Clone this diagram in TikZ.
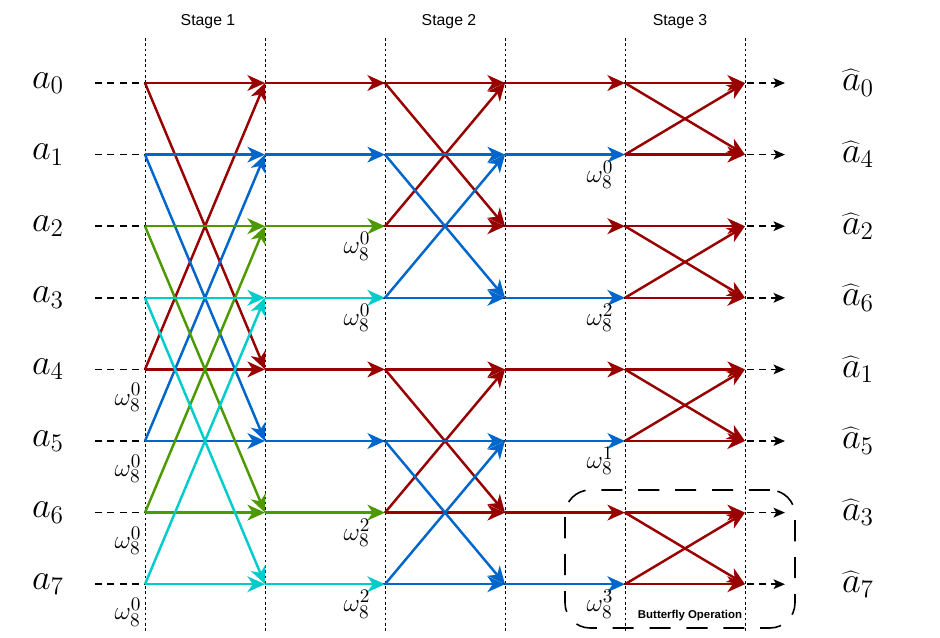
\documentclass[tikz,border=0pt]{standalone}
\usepackage{fontspec}
\setsansfont{Liberation Sans}
\usetikzlibrary{arrows.meta,calc,positioning}
\definecolor{bfred}{HTML}{990000}
\definecolor{bfblue}{HTML}{0066CC}
\definecolor{bfgreen}{HTML}{4D9900}
\definecolor{bfcyan}{HTML}{00CCCC}
\tikzset{
  wire/.style={line width=1.4pt, -{Stealth[length=10pt,width=9pt,inset=3pt]}},
  guide/.style={line width=0.5pt, dash pattern=on 1.5pt off 1.5pt},
  feed/.style={line width=0.9pt, dash pattern=on 4pt off 3pt, -{Stealth[length=6.5pt,width=5.5pt,inset=1.5pt]}},
  sig/.style={font=\fontsize{20}{20}\selectfont},
  twid/.style={font=\fontsize{15}{15}\selectfont},
  stagelbl/.style={font=\sffamily\fontsize{9}{9}\selectfont},
}
\begin{document}
\begin{tikzpicture}[x=0.02cm,y=-0.02cm,line join=round]
			\useasboundingbox (0,0) rectangle (940,637);
			\def \colx{120};
			\def \rowy{71.6};
			% grid points of the flow graph
			\foreach \c in {0,...,5}
			{
				\foreach \r in {0,...,7}
				{
					\coordinate (p\c-\r) at ({145+\colx*\c},{83+\rowy*\r});
				}
			}
			\foreach \c in {0,...,5}
			{
				\draw[guide] ($(p\c-0)+(0,-45)$) -- ($(p\c-7)+(0,48)$);
			}
			\node[stagelbl] (st1) at (208,22) {Stage 1};
			\node[stagelbl] (st2) at (449,22) {Stage 2};
			\node[stagelbl] (st3) at (680,22) {Stage 3};
			% inputs, outputs and dashed wires
			\foreach \r/\o in {0/0,1/4,2/2,3/6,4/1,5/5,6/3,7/7}
			{
				\node[sig] (in\r) at (48,{83+\rowy*\r}) {$a_{\r}$};
				\node[sig] (out\r) at (858,{83+\rowy*\r}) {$\widehat{a}_{\o}$};
				\coordinate (s\r) at (95,{83+\rowy*\r});
				\coordinate (e\r) at (785,{83+\rowy*\r});
				\draw[feed] (s\r) -- (e\r);
			}
			% stage 1
			\foreach \t/\b/\col in {0/4/bfred,1/5/bfblue,2/6/bfgreen,3/7/bfcyan}
			{
				\draw[wire,\col] (p0-\t) -- (p1-\t);
				\draw[wire,\col] (p0-\t) -- (p1-\b);
				\draw[wire,\col] (p0-\b) -- (p1-\b);
				\draw[wire,\col] (p0-\b) -- (p1-\t);
			}
			\foreach \r/\col in {0/bfred,1/bfblue,2/bfgreen,3/bfcyan,4/bfred,5/bfblue,6/bfgreen,7/bfcyan}
			{
				\draw[wire,\col] (p1-\r) -- (p2-\r);
			}
			% stage 2
			\foreach \t/\b/\col in {0/2/bfred,1/3/bfblue,4/6/bfred,5/7/bfblue}
			{
				\draw[wire,\col] (p2-\t) -- (p3-\t);
				\draw[wire,\col] (p2-\t) -- (p3-\b);
				\draw[wire,\col] (p2-\b) -- (p3-\b);
				\draw[wire,\col] (p2-\b) -- (p3-\t);
			}
			\foreach \r/\col in {0/bfred,1/bfblue,2/bfred,3/bfblue,4/bfred,5/bfblue,6/bfred,7/bfblue}
			{
				\draw[wire,\col] (p3-\r) -- (p4-\r);
			}
			% stage 3
			\foreach \t/\b in {0/1,2/3,4/5,6/7}
			{
				\draw[wire,bfred] (p4-\t) -- (p5-\t);
				\draw[wire,bfred] (p4-\t) -- (p5-\b);
				\draw[wire,bfred] (p4-\b) -- (p5-\b);
				\draw[wire,bfred] (p4-\b) -- (p5-\t);
			}
			% twiddle factors
			\foreach \r in {4,5,6,7}
			{
				\node[twid] (w1-\r) at ($(p0-\r)+(-17,28)$) {$\omega_8^0$};
			}
			\foreach \r/\k in {2/0,3/0,6/2,7/2}
			{
				\node[twid] (w2-\r) at ($(p2-\r)+(-28,20)$) {$\omega_8^{\k}$};
			}
			\foreach \r/\k in {1/0,3/2,5/1,7/3}
			{
				\node[twid] (w3-\r) at ($(p4-\r)+(-25,20)$) {$\omega_8^{\k}$};
			}
			% butterfly box
			\node[draw, line width=0.9pt, dash pattern=on 12pt off 9pt, rounded corners=0.5cm,
				minimum width=4.6cm, minimum height=2.76cm] (bfly) at (680,559) {};
			\node[font=\sffamily\bfseries\fontsize{6.5}{6.5}\selectfont] (bflbl) at (690,616) {Butterfly Operation};
\end{tikzpicture}
\end{document}
